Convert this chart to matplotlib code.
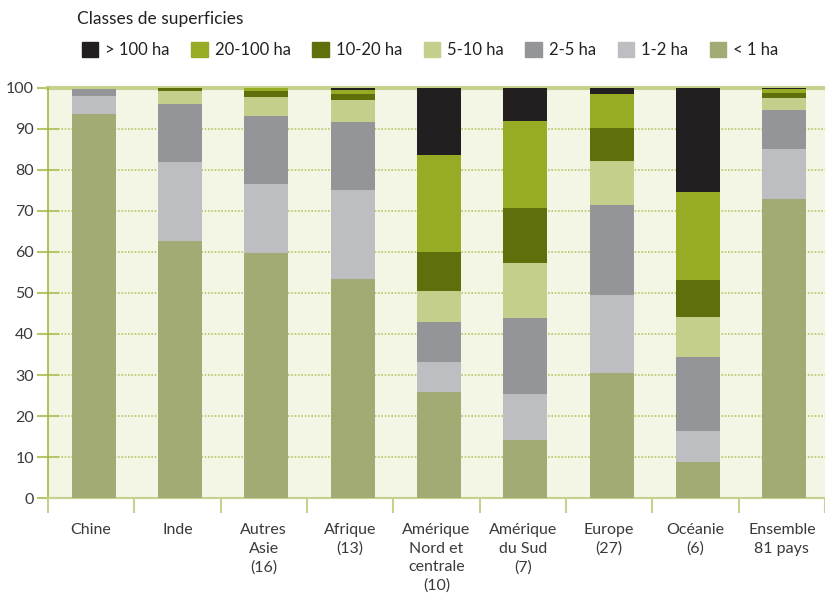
import matplotlib
matplotlib.use("Agg")
import matplotlib.pyplot as plt
from matplotlib.patches import Patch
import numpy as np

plt.rcParams['font.family'] = ['Lato', 'DejaVu Sans']

regions = ["Chine", "Inde", "Autres\nAsie\n(16)", "Afrique\n(13)",
           "Amérique\nNord et\ncentrale\n(10)", "Amérique\ndu Sud\n(7)",
           "Europe\n(27)", "Océanie\n(6)", "Ensemble\n81 pays"]

classes = ["< 1 ha", "1-2 ha", "2-5 ha", "5-10 ha", "10-20 ha", "20-100 ha", "> 100 ha"]

# parts en % par classe de superficie (de bas en haut)
moins_1 = [93.7, 62.7, 59.8, 53.4, 25.9, 14.1, 30.5, 8.8, 72.9]
de_1_2 = [4.3, 19.3, 16.8, 21.7, 7.3, 11.3, 19.0, 7.5, 12.2]
de_2_5 = [1.7, 14.1, 16.6, 16.6, 9.7, 18.5, 22.0, 18.1, 9.5]
de_5_10 = [0.2, 3.2, 4.6, 5.4, 7.6, 13.4, 10.7, 9.7, 3.0]
de_10_20 = [0.1, 0.7, 1.5, 1.4, 9.5, 13.4, 8.0, 9.1, 1.2]
de_20_100 = [0.0, 0.0, 0.7, 1.0, 23.7, 21.3, 8.3, 21.4, 1.0]
plus_100 = [0.0, 0.0, 0.0, 0.5, 16.3, 8.0, 1.5, 25.4, 0.2]

series = [moins_1, de_1_2, de_2_5, de_5_10, de_10_20, de_20_100, plus_100]
couleurs = ["#a2ab73", "#bdbec1", "#949598", "#c4cf8c", "#5f6f0c", "#97ab24", "#231f20"]

fig = plt.figure(figsize=(8.25, 5.93), dpi=100)
ax = fig.add_axes([0.058, 0.160, 0.942, 0.692])
ax.set_facecolor("#f3f5e5")

x = np.arange(len(regions))
bas = np.zeros(len(regions))
for vals, c in zip(series, couleurs):
    ax.bar(x + 0.03, vals, 0.51, bottom=bas, color=c, zorder=3)
    bas += np.array(vals)

ax.set_xlim(-0.5, len(regions) - 0.5)
ax.set_ylim(0, 100)
ax.set_yticks(range(0, 101, 10))
ax.yaxis.grid(True, linestyle=(0, (1, 1)), color="#b5c768", linewidth=1.2, zorder=1)
ax.axhline(100, color="#c5d28e", linewidth=3, zorder=2, clip_on=False)

ax.set_xticks(x)
ax.set_xticklabels(regions, fontsize=11.5, color="#3a3a3a", linespacing=1.4)
ax.set_xticks(np.arange(-0.5, len(regions)), minor=True)
ax.tick_params(axis="x", which="major", length=0, pad=18)
ax.tick_params(axis="x", which="minor", length=11, color="#c5d28e", width=1.5)
ax.tick_params(axis="y", direction="inout", length=16, color="#b5c768", width=1.5,
               labelsize=11.5, labelcolor="#3a3a3a", pad=2)

for s in ["top", "right"]:
    ax.spines[s].set_visible(False)
ax.spines["left"].set_color("#a5b840")
ax.spines["left"].set_linewidth(1.2)
ax.spines["bottom"].set_color("#c5d28e")
ax.spines["bottom"].set_linewidth(1.5)

fig.text(0.093, 0.968, "Classes de superficies", fontsize=12.5, color="#222222", va="center")
handles = [Patch(color=c, label=l) for c, l in zip(couleurs[::-1], classes[::-1])]
fig.legend(handles=handles, loc="center left", bbox_to_anchor=(0.081, 0.915), ncol=7,
           frameon=False, fontsize=12, handlelength=1.0, handleheight=1.0,
           handletextpad=0.4, columnspacing=1.3, labelcolor="#222222")

fig.savefig("out.png", dpi=100)
